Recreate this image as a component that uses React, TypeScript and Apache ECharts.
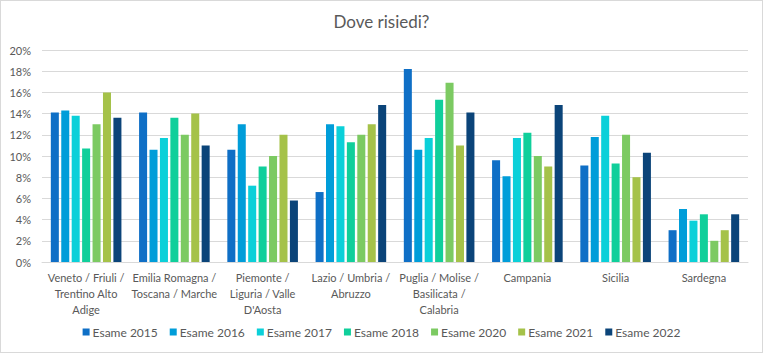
import React, { useEffect, useRef } from "react";
import * as echarts from "echarts";

const categories = [
  "Veneto / Friuli /\nTrentino Alto\nAdige",
  "Emilia Romagna /\nToscana / Marche",
  "Piemonte /\nLiguria / Valle\nD'Aosta",
  "Lazio / Umbria /\nAbruzzo",
  "Puglia / Molise /\nBasilicata /\nCalabria",
  "Campania",
  "Sicilia",
  "Sardegna",
];

const seriesNames = ["Esame 2015", "Esame 2016", "Esame 2017", "Esame 2018", "Esame 2020", "Esame 2021", "Esame 2022"];
const colors = ["#0F6FC6", "#009DD9", "#0BD0D9", "#10CF9B", "#7CCA62", "#A5C249", "#0B4479"];

const esame2015 = [14.1, 14.1, 10.6, 6.6, 18.2, 9.6, 9.1, 3.0];
const esame2016 = [14.3, 10.6, 13.0, 13.0, 10.6, 8.1, 11.8, 5.0];
const esame2017 = [13.8, 11.7, 7.2, 12.8, 11.7, 11.7, 13.8, 3.9];
const esame2018 = [10.7, 13.6, 9.0, 11.3, 15.3, 12.2, 9.3, 4.5];
const esame2020 = [13.0, 12.0, 10.0, 12.0, 16.9, 10.0, 12.0, 2.0];
const esame2021 = [16.0, 14.0, 12.0, 13.0, 11.0, 9.0, 8.0, 3.0];
const esame2022 = [13.6, 11.0, 5.8, 14.8, 14.1, 14.8, 10.3, 4.5];

const seriesData = [esame2015, esame2016, esame2017, esame2018, esame2020, esame2021, esame2022];

const FONT = "Lato, 'Liberation Sans', sans-serif";
const TEXT = "#595959";

export default function App() {
  const ref = useRef<HTMLDivElement>(null);
  useEffect(() => {
    if (!ref.current) return;
    const chart = echarts.init(ref.current, undefined, { renderer: "svg" });
    chart.setOption({
      animation: false,
      backgroundColor: "#ffffff",
      title: {
        text: "Dove risiedi?",
        left: "center",
        top: 7,
        textStyle: { fontFamily: FONT, fontSize: 17, fontWeight: "normal", color: TEXT },
      },
      legend: {
        data: seriesNames,
        bottom: 9,
        left: "center",
        icon: "rect",
        itemWidth: 7,
        itemHeight: 7,
        itemGap: 12,
        textStyle: { fontFamily: FONT, fontSize: 12, color: TEXT, padding: [0, 0, 0, -2] },
      },
      grid: { left: 41, right: 14, top: 49, bottom: 90, containLabel: false },
      xAxis: {
        type: "category",
        data: categories,
        axisLine: { lineStyle: { color: "#D9D9D9" } },
        axisTick: { show: false },
        axisLabel: {
          interval: 0,
          fontFamily: FONT,
          fontSize: 11,
          color: TEXT,
          lineHeight: 16,
          margin: 7,
        },
      },
      yAxis: {
        type: "value",
        min: 0,
        max: 20,
        interval: 2,
        axisLine: { show: false },
        axisTick: { show: false },
        splitLine: { lineStyle: { color: "#D9D9D9" } },
        axisLabel: {
          formatter: (v: number) => v + "%",
          fontFamily: FONT,
          fontSize: 11,
          color: TEXT,
          margin: 11,
        },
      },
      series: seriesNames.map((name, i) => ({
        name,
        type: "bar",
        data: seriesData[i],
        itemStyle: { color: colors[i] },
        barGap: "30%",
        barCategoryGap: "20%",
      })),
    });
    return () => chart.dispose();
  }, []);
  return (
    <div
      style={{
        position: "fixed",
        left: 0,
        top: 0,
        width: 763,
        height: 353,
        boxSizing: "border-box",
        border: "1px solid #D9D9D9",
        background: "#fff",
      }}
    >
      <div ref={ref} style={{ width: 761, height: 351 }} />
    </div>
  );
}
